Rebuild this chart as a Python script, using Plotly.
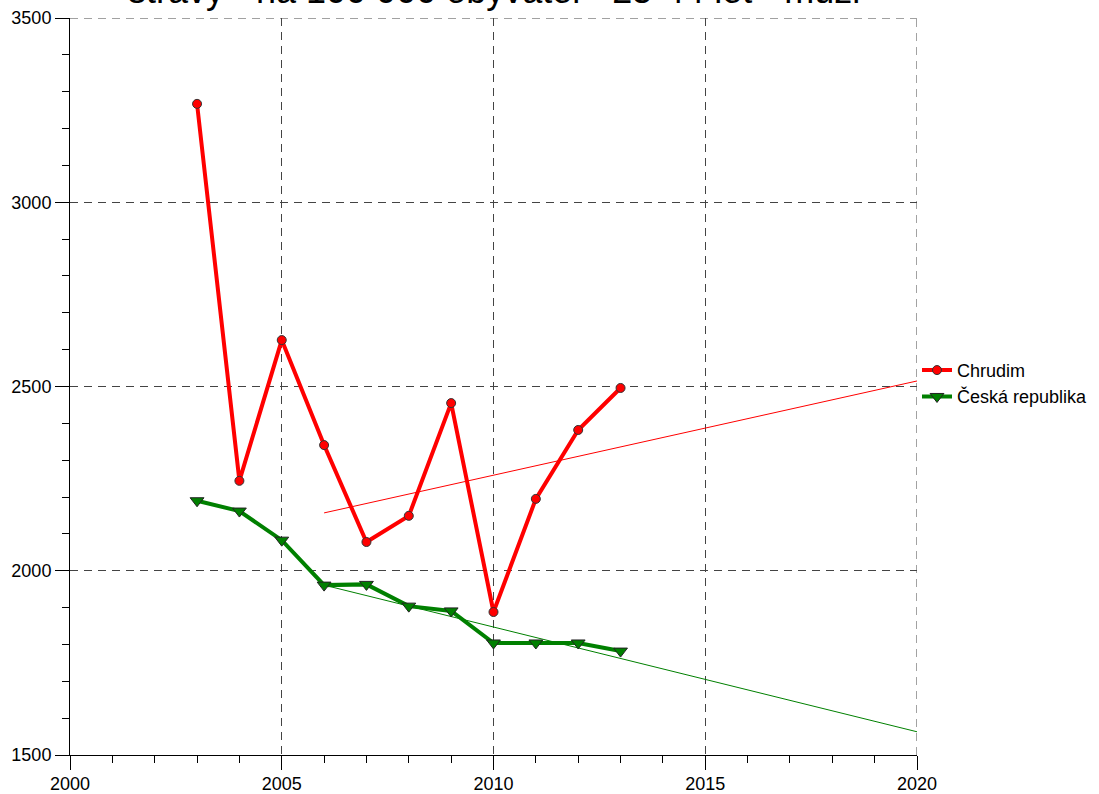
import plotly.graph_objects as go

years = [2003, 2004, 2005, 2006, 2007, 2008, 2009, 2010, 2011, 2012, 2013]
chrudim = [3267, 2244, 2626, 2341, 2078, 2149, 2455, 1888, 2195, 2382, 2496]
cr = [2190, 2162, 2083, 1961, 1963, 1904, 1891, 1804, 1804, 1804, 1782]

trend_years = [2006, 2020]
chrudim_trend = [2157, 2515]
cr_trend = [1961, 1563]

title_text = "stravy - na 100 000 obyvatel - 25-44 let - muži"

X_RANGE = [2000, 2020]
Y_RANGE = [1500, 3500]

FONT = "Liberation Sans, Arial, sans-serif"
GRID = "#444444"
DASH = "8px,6px"

fig = go.Figure()
fig.add_trace(go.Scatter(x=trend_years, y=chrudim_trend, mode="lines",
                         line=dict(color="#ff0000", width=1), showlegend=False, hoverinfo="skip"))
fig.add_trace(go.Scatter(x=trend_years, y=cr_trend, mode="lines",
                         line=dict(color="#008000", width=1), showlegend=False, hoverinfo="skip"))
fig.add_trace(go.Scatter(x=years, y=chrudim, mode="lines+markers", name="Chrudim",
                         line=dict(color="#ff0000", width=4),
                         marker=dict(symbol="circle", size=9, color="#ff0000",
                                     line=dict(color="#333333", width=1))))
fig.add_trace(go.Scatter(x=years, y=cr, mode="lines+markers", name="Česká republika",
                         line=dict(color="#008000", width=4),
                         marker=dict(symbol="triangle-down", size=12, color="#008000",
                                     line=dict(color="#222222", width=1))))

# gridlines at the range edges (top and right), which plotly omits
fig.add_shape(type="line", xref="x", yref="y", x0=X_RANGE[0], x1=X_RANGE[1], y0=Y_RANGE[1], y1=Y_RANGE[1],
              line=dict(color=GRID, width=1, dash=DASH), layer="below")
fig.add_shape(type="line", xref="x", yref="y", x0=X_RANGE[1], x1=X_RANGE[1], y0=Y_RANGE[0], y1=Y_RANGE[1],
              line=dict(color=GRID, width=1, dash=DASH), layer="below")

fig.add_annotation(text=title_text, xref="paper", yref="paper", x=0.5, y=1,
                   xanchor="center", yanchor="bottom", yshift=5, showarrow=False,
                   font=dict(family=FONT, size=36, color="black"))

fig.update_layout(
    width=1099, height=794,
    margin=dict(l=70, r=182, t=18, b=39, autoexpand=False),
    paper_bgcolor="white", plot_bgcolor="white",
    font=dict(family=FONT, size=18, color="black"),
    legend=dict(x=1.0, y=0.547, xanchor="left", yanchor="top",
                font=dict(family=FONT, size=18, color="black"),
                bgcolor="rgba(0,0,0,0)", tracegroupgap=0, itemwidth=30),
)
fig.update_xaxes(range=X_RANGE, dtick=5, tick0=2000, showline=True, linecolor="black", linewidth=1,
                 ticks="outside", ticklen=14, tickcolor="black", tickwidth=1, automargin=False,
                 showgrid=True, gridcolor=GRID, griddash=DASH, gridwidth=1,
                 zeroline=False, tickfont=dict(size=18), ticklabelstandoff=-2,
                 minor=dict(dtick=1, ticks="outside", ticklen=7, tickcolor="black", showgrid=False))
fig.update_yaxes(range=Y_RANGE, dtick=500, tick0=1500, showline=True, linecolor="black", linewidth=1,
                 ticks="outside", ticklen=14, tickcolor="black", tickwidth=1, automargin=False,
                 showgrid=True, gridcolor=GRID, griddash=DASH, gridwidth=1,
                 zeroline=False, tickfont=dict(size=18),
                 minor=dict(dtick=100, ticks="outside", ticklen=7, tickcolor="black", showgrid=False))

fig.write_html("out.html", config={"displayModeBar": False},
               post_script="document.body.style.margin='0';")
